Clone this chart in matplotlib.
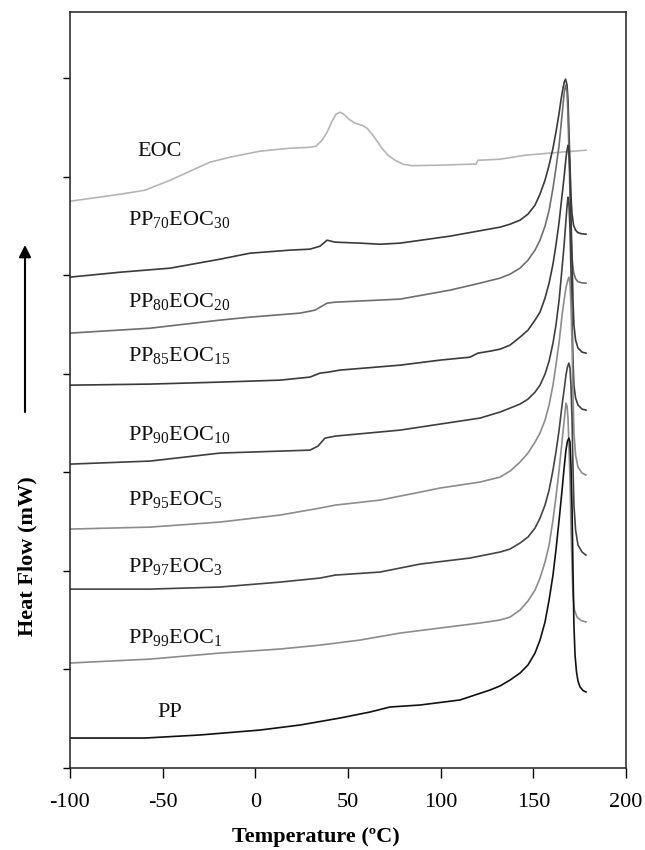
import matplotlib
matplotlib.use("Agg")
import matplotlib.pyplot as plt

plt.rcParams['font.family'] = ['Liberation Serif', 'DejaVu Serif']
plt.rcParams['mathtext.fontset'] = 'custom'
plt.rcParams['mathtext.rm'] = 'Liberation Serif'
plt.rcParams['mathtext.default'] = 'rm'
plt.rcParams['axes.unicode_minus'] = False

# DSC heating scans, curves shifted vertically (arbitrary heat flow units)
t_eoc = [-100, -73.0, -59.5, -46.0, -24.5, -13.7, 2.5, 18.7, 29.5,
         32.7, 36.0, 38.7, 41.4, 43.5, 45.7, 47.8, 50.5, 53.8, 57.6,
         60.3, 63.0, 65.7, 68.3, 71.6, 75.4, 79.7, 84.5,
         99.6, 115.8, 119.1, 120.1, 132.0, 145.5, 164.4, 178.4]
hf_eoc = [5.750, 5.821, 5.862, 5.963, 6.146, 6.197, 6.258, 6.288, 6.298,
          6.308, 6.369, 6.450, 6.562, 6.633, 6.653, 6.633, 6.582, 6.542, 6.521,
          6.491, 6.430, 6.359, 6.288, 6.217, 6.166, 6.126, 6.111,
          6.116, 6.126, 6.126, 6.166, 6.176, 6.217, 6.247, 6.268]

t_pp70 = [-100, -73.0, -46.0, -19.1, -2.9, 18.7, 29.5, 34.9, 38.7, 43.0, 56.5, 67.3, 78.1, 105.0,
          132.0, 137.4, 142.8, 147.1, 150.9, 153.6, 156.3, 158.5, 160.6, 162.2, 163.9, 164.9, 166.0, 166.8, 167.4,
          168.2, 168.7, 169.2, 169.8, 170.3, 170.9, 171.7, 172.8, 174.1, 176.3, 178.4]
hf_pp70 = [4.980, 5.030, 5.071, 5.162, 5.223, 5.254, 5.264, 5.294, 5.355, 5.335, 5.325, 5.314, 5.325, 5.396,
           5.487, 5.517, 5.558, 5.619, 5.710, 5.822, 5.963, 6.116, 6.288, 6.450, 6.643, 6.775, 6.897, 6.968, 6.988,
           6.927, 6.775, 6.471, 6.116, 5.801, 5.619, 5.507, 5.456, 5.431, 5.419, 5.416]

t_pp80 = [-100, -56.8, -19.1, -2.9, 24.1, 32.2, 38.7, 43.0, 78.1, 105.0, 121.2,
          132.0, 137.4, 142.8, 147.1, 150.9, 153.6, 156.3, 158.5, 160.6, 162.2, 163.9, 164.9, 166.0, 166.8, 167.4,
          168.2, 168.7, 169.2, 169.8, 170.3, 170.9, 171.7, 172.8, 174.1, 176.3, 178.4]
hf_pp80 = [4.412, 4.462, 4.544, 4.574, 4.615, 4.645, 4.716, 4.726, 4.757, 4.848, 4.919,
           4.970, 5.010, 5.071, 5.152, 5.254, 5.355, 5.497, 5.659, 5.882, 6.085, 6.318, 6.511, 6.724, 6.876, 6.927,
           6.856, 6.623, 6.268, 5.811, 5.406, 5.172, 5.030, 4.964, 4.934, 4.922, 4.919]

t_pp85 = [-100, -56.8, -19.1, 13.3, 29.5, 34.9, 39.2, 45.7, 78.1, 99.6, 115.8, 120.1, 126.6,
          132.0, 137.4, 142.8, 147.1, 150.9, 153.6, 156.3, 158.5, 160.6, 162.2, 163.9, 165.5, 166.6, 167.6, 168.2, 168.7,
          169.2, 169.8, 170.3, 170.9, 171.4, 171.9, 172.8, 174.1, 176.3, 178.4]
hf_pp85 = [3.884, 3.895, 3.915, 3.935, 3.966, 4.006, 4.016, 4.037, 4.087, 4.138, 4.168, 4.209, 4.229,
           4.249, 4.290, 4.371, 4.442, 4.544, 4.625, 4.767, 4.919, 5.112, 5.304, 5.538, 5.811, 5.994, 6.187, 6.268, 6.318,
           6.268, 6.014, 5.609, 5.152, 4.746, 4.493, 4.341, 4.260, 4.219, 4.209]

t_pp90 = [-100, -56.8, -19.1, -2.9, 29.5, 33.8, 37.6, 43.0, 78.1, 99.6,
          121.2, 132.0, 137.4, 142.8, 147.1, 150.9, 153.6, 156.3, 158.5, 160.6, 162.2, 163.9, 165.5, 166.6, 167.6, 168.2, 168.7,
          169.2, 169.8, 170.3, 170.9, 171.4, 171.9, 172.8, 174.1, 176.3, 178.4]
hf_pp90 = [3.083, 3.114, 3.195, 3.205, 3.225, 3.266, 3.347, 3.367, 3.428, 3.489,
           3.550, 3.611, 3.651, 3.692, 3.742, 3.813, 3.884, 3.996, 4.128, 4.310, 4.493, 4.746, 5.071, 5.304, 5.558, 5.700, 5.791,
           5.730, 5.456, 5.051, 4.544, 4.138, 3.884, 3.753, 3.682, 3.641, 3.631]

t_pp95 = [-100, -56.8, -19.1, 13.3, 34.9, 43.0, 67.3, 88.9, 99.6,
          121.2, 132.0, 137.4, 142.8, 147.1, 150.9, 153.6, 156.3, 158.5, 160.6, 162.2, 163.9, 165.5, 166.6, 167.6, 168.4, 169.2,
          169.8, 170.3, 170.9, 171.4, 171.9, 172.8, 174.1, 176.3, 178.4]
hf_pp95 = [2.424, 2.444, 2.495, 2.566, 2.637, 2.667, 2.718, 2.799, 2.840,
           2.901, 2.951, 3.012, 3.103, 3.195, 3.306, 3.398, 3.529, 3.682, 3.884, 4.087, 4.320, 4.594, 4.746, 4.868, 4.939, 4.980,
           4.909, 4.696, 4.290, 3.783, 3.408, 3.174, 3.053, 2.992, 2.972]

t_pp97 = [-100, -56.8, -19.1, 13.3, 34.9, 43.0, 67.3, 88.9,
          115.8, 132.0, 137.4, 142.8, 147.1, 150.9, 153.6, 156.3, 158.5, 160.6, 162.2, 163.9, 165.5, 166.6, 167.6, 168.4, 169.2,
          169.8, 170.3, 170.9, 171.4, 171.9, 172.8, 174.1, 176.3, 178.4]
hf_pp97 = [1.815, 1.815, 1.836, 1.886, 1.927, 1.957, 1.988, 2.069,
           2.130, 2.191, 2.221, 2.282, 2.343, 2.434, 2.535, 2.667, 2.819, 3.022, 3.205, 3.428, 3.682, 3.834, 3.986, 4.067, 4.108,
           4.057, 3.884, 3.529, 3.043, 2.667, 2.414, 2.262, 2.191, 2.160]

t_pp99 = [-100, -56.8, -19.1, 13.3, 34.9, 56.5, 78.1, 99.6,
          121.2, 132.0, 137.4, 142.8, 147.1, 150.9, 153.6, 156.3, 158.5, 160.6, 162.2, 163.9, 164.9, 166.0, 166.8, 167.6,
          168.2, 168.7, 169.2, 169.8, 170.3, 170.9, 171.4, 172.2, 173.6, 175.7, 178.4]
hf_pp99 = [1.065, 1.105, 1.166, 1.207, 1.247, 1.298, 1.369, 1.420,
           1.471, 1.501, 1.531, 1.602, 1.694, 1.805, 1.927, 2.089, 2.262, 2.515, 2.748, 3.022, 3.205, 3.408, 3.550, 3.702,
           3.671, 3.550, 3.276, 2.921, 2.465, 2.028, 1.755, 1.602, 1.531, 1.496, 1.481]

t_pp = [-100, -59.5, -29.9, 2.5, 24.1, 45.7, 61.9, 72.7, 88.9, 110.4, 126.6,
        132.0, 137.4, 142.8, 147.1, 150.9, 153.6, 156.3, 158.5, 160.6, 162.2, 163.9, 165.5, 166.6, 167.6, 168.4, 169.2,
        169.8, 170.3, 170.9, 171.4, 171.9, 172.5, 173.3, 174.1, 175.2, 176.8, 178.4]
hf_pp = [0.304, 0.304, 0.335, 0.385, 0.436, 0.507, 0.568, 0.619, 0.639, 0.690, 0.791,
         0.832, 0.892, 0.963, 1.045, 1.166, 1.298, 1.481, 1.704, 1.957, 2.211, 2.515, 2.819, 3.043, 3.225, 3.316, 3.347,
         3.306, 3.073, 2.617, 2.008, 1.450, 1.146, 0.974, 0.882, 0.822, 0.786, 0.771]

curves = [
    (t_eoc, hf_eoc, '#b5b5b5', 'EOC', -51.4, 6.25, 'center'),
    (t_pp70, hf_pp70, '#3a3a3a', r'PP$_{70}$EOC$_{30}$', -68.7, 5.56, 'left'),
    (t_pp80, hf_pp80, '#6e6e6e', r'PP$_{80}$EOC$_{20}$', -68.7, 4.73, 'left'),
    (t_pp85, hf_pp85, '#3a3a3a', r'PP$_{85}$EOC$_{15}$', -68.7, 4.19, 'left'),
    (t_pp90, hf_pp90, '#3f3f3f', r'PP$_{90}$EOC$_{10}$', -68.7, 3.38, 'left'),
    (t_pp95, hf_pp95, '#8c8c8c', r'PP$_{95}$EOC$_{5}$', -68.7, 2.72, 'left'),
    (t_pp97, hf_pp97, '#444444', r'PP$_{97}$EOC$_{3}$', -68.7, 2.04, 'left'),
    (t_pp99, hf_pp99, '#8c8c8c', r'PP$_{99}$EOC$_{1}$', -68.7, 1.32, 'left'),
    (t_pp, hf_pp, '#111111', 'PP', -46.0, 0.56, 'center'),
]

fig = plt.figure(figsize=(6.45, 8.5), dpi=100)
ax = fig.add_axes([70 / 645, 82 / 850, 556 / 645, 756 / 850])

for t, hf, col, name, lx, ly, ha in curves:
    ax.plot(t, hf, color=col, lw=1.2, solid_joinstyle='round')
    ax.text(lx, ly, name, ha=ha, va='center', fontsize=16, color='#111111')

ax.set_xlim(-100, 200)
ax.set_ylim(0, 7.67)
ax.set_xticks(range(-100, 201, 50))
ax.set_yticks(range(0, 8))
ax.set_yticklabels([])
ax.tick_params(axis='x', direction='out', length=7, width=1, pad=11, labelsize=16)
ax.tick_params(axis='y', direction='out', length=5, width=1)
for s in ax.spines.values():
    s.set_linewidth(1.1)
    s.set_color('#222222')

fig.text(316 / 645, 1 - 837 / 850, 'Temperature (ºC)', ha='center', va='center',
         fontsize=16, fontweight='bold')
fig.text(27 / 645, 1 - 556 / 850, 'Heat Flow (mW)', ha='center', va='center',
         rotation=90, fontsize=16, fontweight='bold')

# arrow showing the direction of increasing heat flow
ax.annotate('', xy=(25, 850 - 245), xytext=(25, 850 - 412),
            xycoords='figure pixels', textcoords='figure pixels',
            arrowprops=dict(arrowstyle='-|>', mutation_scale=18, lw=1.5, color='black',
                            shrinkA=0, shrinkB=0))

fig.savefig('out.png', dpi=100)
